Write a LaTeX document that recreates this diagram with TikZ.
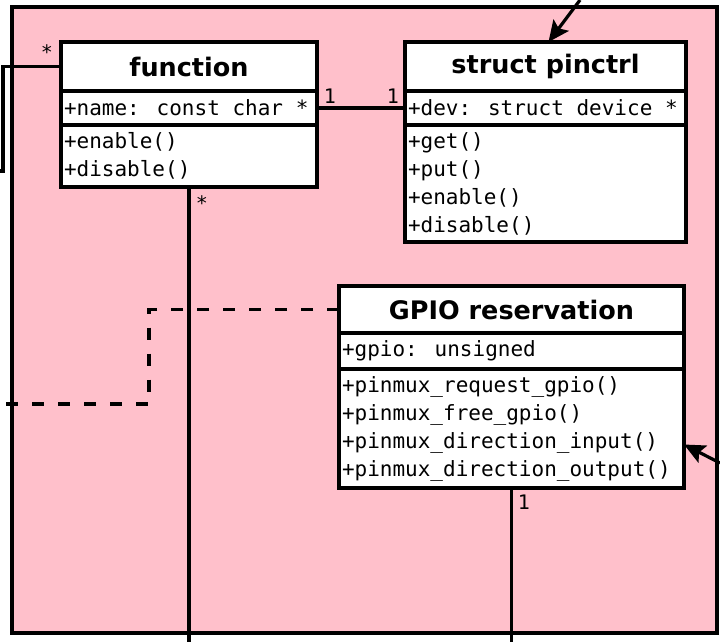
\documentclass[tikz,border=0pt]{standalone}
\usepackage{fontspec}
\usetikzlibrary{positioning,arrows.meta}
\newfontfamily\titlefont{DejaVu Sans}
\newfontfamily\codefont{DejaVu Sans Mono}
\definecolor{bgpink}{RGB}{255,192,203}

\begin{document}
\begin{tikzpicture}[x=1pt,y=1pt,
    title/.style={draw,fill=white,line width=3.2pt,outer sep=0pt,inner sep=0pt,
      font=\titlefont\bfseries\fontsize{25.5}{30}\selectfont},
    part/.style={draw,fill=white,line width=3.2pt,outer sep=0pt,inner xsep=3pt,inner ysep=0pt,
      align=left,font=\codefont\fontsize{21}{28}\selectfont,
      execute at begin node={\spaceskip=0pt\xspaceskip=0pt}},
    mult/.style={font=\codefont\fontsize{20}{20}\selectfont,inner sep=0pt},
    link/.style={line width=3.2pt},
    headed/.style={line width=3.2pt,arrows={-Stealth[length=21pt,width=19pt,inset=4pt]}}]
  \useasboundingbox (0,0) rectangle (720,-642);
  % package area
  \filldraw[fill=bgpink,link] (12,-7) rectangle (717,-633);

  % function
  \node[title,minimum width=256pt,minimum height=49pt] (fntitle) at (189,-66.5) {function};
  \node[part,text width=250pt,minimum height=34pt,below=0pt of fntitle] (fnattr) {+name: const char *};
  \node[part,text width=250pt,minimum height=62pt,below=0pt of fnattr] (fnops) {+enable()\\+disable()};

  % struct pinctrl
  \node[title,minimum width=281pt,minimum height=49pt] (pctitle) at (545.5,-66.5) {struct pinctrl};
  \node[part,text width=275pt,minimum height=34pt,below=0pt of pctitle] (pcattr) {+dev: struct device *};
  \node[part,text width=275pt,minimum height=117pt,below=0pt of pcattr] (pcops) {+get()\\+put()\\+enable()\\+disable()};

  % GPIO reservation
  \node[title,minimum width=345pt,minimum height=47pt] (gptitle) at (511.5,-309.5) {GPIO reservation};
  \node[part,text width=339pt,minimum height=36pt,below=0pt of gptitle] (gpattr) {+gpio: unsigned};
  \node[part,text width=339pt,minimum height=119pt,below=0pt of gpattr] (gpops)
    {+pinmux\_request\_gpio()\\+pinmux\_free\_gpio()\\+pinmux\_direction\_input()\\+pinmux\_direction\_output()};

  % loose ends
  \coordinate (fnout) at (0,-171);
  \coordinate (fndown) at (189,-642);
  \coordinate (gpout) at (0,-404);
  \coordinate (gpdown) at (511.5,-642);
  \coordinate (pcin) at (580,0);
  \coordinate (gpin) at (720,-463);

  % connectors
  \draw[link] (fnattr.east) -- (pcattr.west);
  \draw[link] (fntitle.west) -- ++(-58,0) |- (fnout);
  \draw[link] (fnops.south) -- (fndown);
  \draw[link] (gpops.south) -- (gpdown);
  \draw[link,dash pattern=on 12pt off 14pt] (gptitle.west) -- ++(-190,0) |- (gpout);
  \draw[headed] (pcin) -- ([xshift=3pt]pctitle.north);
  \draw[headed] (gpin) -- ([yshift=-16pt]gpops.east);

  % multiplicities
  \node[mult] (m1) at (47,-52) {*};
  \node[mult] (m2) at (330,-96) {1};
  \node[mult] (m3) at (393,-96) {1};
  \node[mult] (m4) at (202,-203) {*};
  \node[mult] (m5) at (524,-502) {1};
\end{tikzpicture}
\end{document}
